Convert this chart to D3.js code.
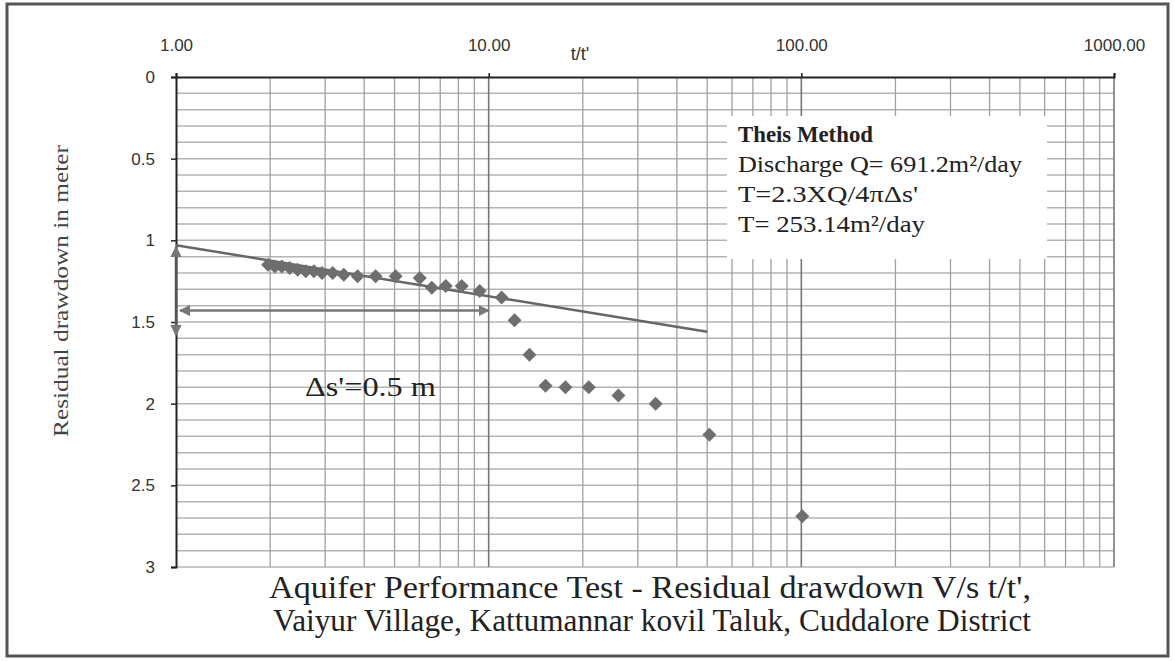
<!DOCTYPE html>
<html><head><meta charset="utf-8">
<script src="https://cdn.jsdelivr.net/npm/d3@7"></script>
<style>body{margin:0;background:#fff}svg{display:block}</style>
</head><body>
<svg id="c" width="1175" height="661"></svg>
<script>
// ---- data ----
const tRatio = [1.97, 2.07, 2.18, 2.31, 2.45, 2.60, 2.76, 2.93, 3.17, 3.44, 3.81, 4.35, 5.04, 6.02, 6.58, 7.29, 8.20, 9.36, 11.0, 12.1, 13.5, 15.2, 17.6, 20.9, 26.0, 34.2, 50.8, 100.7];
const residual = [1.15, 1.16, 1.16, 1.17, 1.18, 1.19, 1.19, 1.20, 1.20, 1.21, 1.22, 1.22, 1.22, 1.23, 1.29, 1.28, 1.28, 1.31, 1.35, 1.49, 1.70, 1.89, 1.90, 1.90, 1.95, 2.00, 2.19, 2.69];
const fitT = [1, 50];
const fitS = [1.03, 1.56];
const vArrowT = [1, 1];
const vArrowS = [1.04, 1.58];
const hArrowT = [1.03, 10];
const hArrowS = [1.43, 1.43];
const xTicks = [1, 10, 100, 1000];
const yTicks = [0, 0.5, 1, 1.5, 2, 2.5, 3];
const boxLines = ["Discharge Q= 691.2m\u00b2/day", "T=2.3XQ/4\u03c0\u0394s'", "T= 253.14m\u00b2/day"];
const boxWidths = [284, 180, 187];

const svg = d3.select("#c");
const L = 176, R = 1114, T = 77, B = 567;
const x = d3.scaleLog().domain([1, 1000]).range([L, R]);
const y = d3.scaleLinear().domain([0, 3]).range([T, B]);

// outer frame
svg.append("rect").attr("x", 7).attr("y", 4).attr("width", 1161).attr("height", 652)
  .attr("fill", "#fff").attr("stroke", "#555").attr("stroke-width", 3);

// horizontal grid
const hg = d3.range(1, 31).map(i => i / 10);
svg.append("g").selectAll("line").data(hg).join("line")
  .attr("x1", L).attr("x2", R).attr("y1", d => y(d)).attr("y2", d => y(d))
  .attr("stroke", "#b4b4b4").attr("stroke-width", 1.5);

// vertical grid
const vg = [];
[1, 10, 100].forEach(dd => { for (let k = 2; k <= 9; k++) vg.push(dd * k); });
svg.append("g").selectAll("line").data(vg).join("line")
  .attr("x1", d => x(d)).attr("x2", d => x(d)).attr("y1", T).attr("y2", B)
  .attr("stroke", "#a0a0a0").attr("stroke-width", 1.3);
svg.append("g").selectAll("line").data([10, 100, 1000]).join("line")
  .attr("x1", d => x(d)).attr("x2", d => x(d)).attr("y1", T).attr("y2", B)
  .attr("stroke", "#777").attr("stroke-width", 1.6);

// annotation box (white)
svg.append("rect").attr("x", 727).attr("y", 116).attr("width", 320).attr("height", 143).attr("fill", "#fff");

// axes
const sans = "'Liberation Sans', Arial, sans-serif";
const xAxis = d3.axisTop(x).tickValues(xTicks).tickFormat(d3.format(".2f")).tickSize(4).tickPadding(22);
const gx = svg.append("g").attr("transform", `translate(0,${T})`).call(xAxis);
gx.select(".domain").attr("stroke", "#222").attr("stroke-width", 2);
gx.selectAll(".tick line").attr("stroke", "#222").attr("stroke-width", 1.5);
gx.selectAll("text").attr("font-family", sans).attr("font-size", 17).attr("fill", "#333");

const yAxis = d3.axisLeft(y).tickValues(yTicks).tickFormat(d => String(d)).tickSize(5).tickPadding(16);
const gy = svg.append("g").attr("transform", `translate(${L},0)`).call(yAxis);
gy.select(".domain").attr("stroke", "#222").attr("stroke-width", 2);
gy.selectAll(".tick line").attr("stroke", "#222").attr("stroke-width", 1.5);
gy.selectAll("text").attr("font-family", sans).attr("font-size", 17).attr("fill", "#333");

// fitted line
svg.append("path").datum(fitT.map((t, i) => [t, fitS[i]]))
  .attr("d", d3.line().x(d => x(d[0])).y(d => y(d[1])))
  .attr("fill", "none").attr("stroke", "#666").attr("stroke-width", 2.5);

// arrows
const defs = svg.append("defs");
defs.append("marker").attr("id", "ah").attr("viewBox", "0 0 10 10").attr("refX", 9).attr("refY", 5)
  .attr("markerWidth", 4.5).attr("markerHeight", 4.5).attr("orient", "auto-start-reverse")
  .append("path").attr("d", "M0,0L10,5L0,10z").attr("fill", "#777");
svg.append("path").datum(vArrowT.map((t, i) => [t, vArrowS[i]]))
  .attr("d", d3.line().x(d => x(d[0])).y(d => y(d[1])))
  .attr("stroke", "#555").attr("stroke-width", 2.5).attr("fill", "none")
  .attr("marker-start", "url(#ah)").attr("marker-end", "url(#ah)");
svg.append("path").datum(hArrowT.map((t, i) => [t, hArrowS[i]]))
  .attr("d", d3.line().x(d => x(d[0])).y(d => y(d[1])))
  .attr("stroke", "#777").attr("stroke-width", 2.5).attr("fill", "none")
  .attr("marker-start", "url(#ah)").attr("marker-end", "url(#ah)");

// points
svg.append("g").selectAll("path").data(tRatio.map((t, i) => [t, residual[i]])).join("path")
  .attr("transform", d => `translate(${x(d[0])},${y(d[1])})`)
  .attr("d", "M0,-7L7,0L0,7L-7,0Z").attr("fill", "#6e6e6e");

// texts
const serif = "'Liberation Serif', 'Times New Roman', serif";
svg.append("text").attr("x", 580).attr("y", 60).attr("text-anchor", "middle")
  .attr("font-family", sans).attr("font-size", 18).attr("fill", "#333").text("t/t'");
svg.append("text").attr("transform", "translate(68,291) rotate(-90)").attr("text-anchor", "middle")
  .attr("font-family", serif).attr("font-size", 21).attr("fill", "#444")
  .attr("textLength", 292).attr("lengthAdjust", "spacingAndGlyphs").text("Residual drawdown in meter");
svg.append("text").attr("x", 305).attr("y", 396).attr("font-family", serif).attr("font-size", 28).attr("fill", "#222")
  .attr("textLength", 131).attr("lengthAdjust", "spacingAndGlyphs").text("\u0394s'=0.5 m");

svg.append("text").attr("x", 738).attr("y", 142).attr("font-family", serif).attr("font-size", 23)
  .attr("font-weight", "bold").attr("fill", "#222")
  .attr("textLength", 135).attr("lengthAdjust", "spacingAndGlyphs").text("Theis Method");
svg.append("g").selectAll("text").data(boxLines).join("text")
  .attr("x", 738).attr("y", (d, i) => 172 + i * 30).attr("font-family", serif).attr("font-size", 23).attr("fill", "#222")
  .attr("textLength", (d, i) => boxWidths[i]).attr("lengthAdjust", "spacingAndGlyphs").text(d => d);

svg.append("text").attr("x", 650).attr("y", 598).attr("text-anchor", "middle").attr("font-family", serif)
  .attr("font-size", 31).attr("fill", "#222").attr("textLength", 762).attr("lengthAdjust", "spacingAndGlyphs")
  .text("Aquifer Performance Test  - Residual drawdown V/s t/t',");
svg.append("text").attr("x", 652).attr("y", 631).attr("text-anchor", "middle").attr("font-family", serif)
  .attr("font-size", 31).attr("fill", "#222").attr("textLength", 758).attr("lengthAdjust", "spacingAndGlyphs")
  .text("Vaiyur Village, Kattumannar kovil  Taluk,  Cuddalore District");
</script>
</body></html>
